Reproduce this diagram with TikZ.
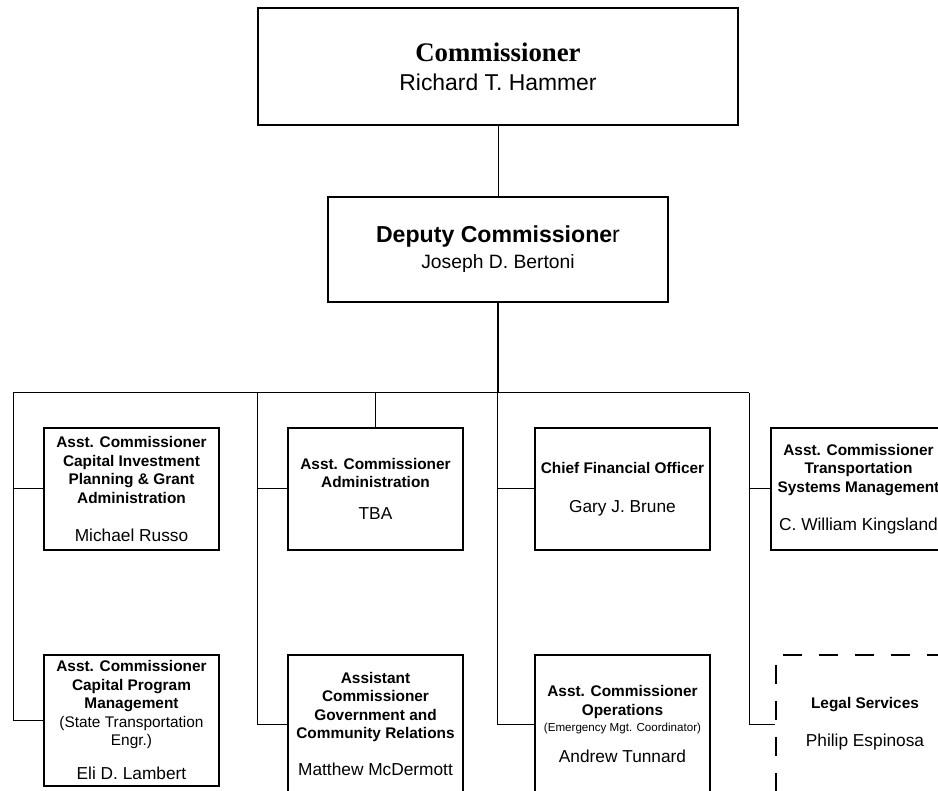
\documentclass[tikz,border=0pt]{standalone}
\usepackage{fontspec}
\setmainfont{Liberation Sans}
\newfontfamily\serifface{Liberation Serif}
\newcommand\pname[1]{{\mdseries\fontsize{17.3}{18.5}\selectfont #1}}
\newcommand\plain[1]{{\mdseries #1}}
\begin{document}
\begin{tikzpicture}[x=1pt,y=-1pt,
  box/.style={draw, line width=1.2pt, rectangle, inner sep=0pt, align=center,
              font=\fontsize{15.4}{18.5}\selectfont\bfseries},
  upper/.style={box, minimum width=175pt, minimum height=122pt},
  lower/.style={box, minimum width=175pt, minimum height=138pt},
  conn/.style={line width=1pt},
  trunk/.style={line width=2.2pt}]
\useasboundingbox (0,0) rectangle (938,791);
\clip (0,0) rectangle (938,791);

% top levels
\node[box, minimum width=480pt, minimum height=117pt, font=\fontsize{22.9}{29}\selectfont] (comm) at (498,66.5)
  {{\serifface\bfseries\fontsize{26.8}{29}\selectfont Commissioner}\\Richard T. Hammer};
\node[box, minimum width=340pt, minimum height=105pt, font=\fontsize{23.1}{26}\selectfont] (dep) at (498,249.5)
  {\textbf{Deputy Commissione}r\\{\fontsize{19.3}{26}\selectfont Joseph D. Bertoni}};

% upper row
\node[upper] (b1) at (131.5,489)
  {Asst. Commissioner\\Capital Investment\\Planning \& Grant\\Administration\\[19.5pt]\pname{Michael Russo}};
\node[upper] (b2) at (375.5,489)
  {Asst. Commissioner\\Administration\\[13.8pt]\pname{TBA}};
\node[upper] (b3) at (622.5,489)
  {\raisebox{-2pt}{Chief Financial Officer}\\[19.5pt]\pname{\raisebox{-2.5pt}{Gary J. Brune}}};
\node[upper] (b4) at (858.5,489)
  {\raisebox{-2pt}{Asst. Commissioner}\\\raisebox{-2pt}{Transportation}\\\raisebox{-2pt}{Systems Management}\\[19.5pt]\pname{\raisebox{-2pt}{C. William Kingsland}}};

% lower row
\node[box, minimum width=175pt, minimum height=131pt] (b5) at (131.5,720.5)
  {Asst. Commissioner\\Capital Program\\Management\\\plain{(State Transportation}\\\plain{Engr.)}\\[15.5pt]\pname{Eli D. Lambert}};
\node[lower] (b6) at (375.5,724)
  {Assistant\\Commissioner\\Government and\\Community Relations\\[18.8pt]\pname{Matthew McDermott}};
\node[lower] (b7) at (622.5,724)
  {Asst. Commissioner\\Operations\\[-2.2pt]\plain{\fontsize{11.6}{13}\selectfont(Emergency Mgt. Coordinator)}\\[12.2pt]\pname{Andrew Tunnard}};
\node[lower, minimum width=178pt, dash pattern=on 19pt off 17pt] (b8) at (865,724)
  {Legal Services\\[19.2pt]\pname{Philip Espinosa}};

% bus
\coordinate (busL) at (13,393);
\coordinate (busR) at (749,393);
\coordinate (busM) at (498,393);
\coordinate (colA) at (257,393);
\coordinate (colB) at (497,393);

\draw[conn] (comm.south) -- (dep.north);
\draw[trunk] (dep.south) -- (busM);
\draw[conn] (busL) -- (busR);

% column at far left
\draw[conn] (busL) |- (b5.west);
\draw[conn] (b1.west -| busL) -- (b1.west);
% second column
\draw[conn] (colA) |- (b6.west);
\draw[conn] (b2.west -| colA) -- (b2.west);
\draw[conn] (b2.north |- busL) -- (b2.north);
% third column
\draw[conn] (colB) |- (b7.west);
\draw[conn] (b3.west -| colB) -- (b3.west);
% fourth column
\draw[conn] (busR) |- (b8.west);
\draw[conn] (b4.west -| busR) -- (b4.west);
\end{tikzpicture}
\end{document}
